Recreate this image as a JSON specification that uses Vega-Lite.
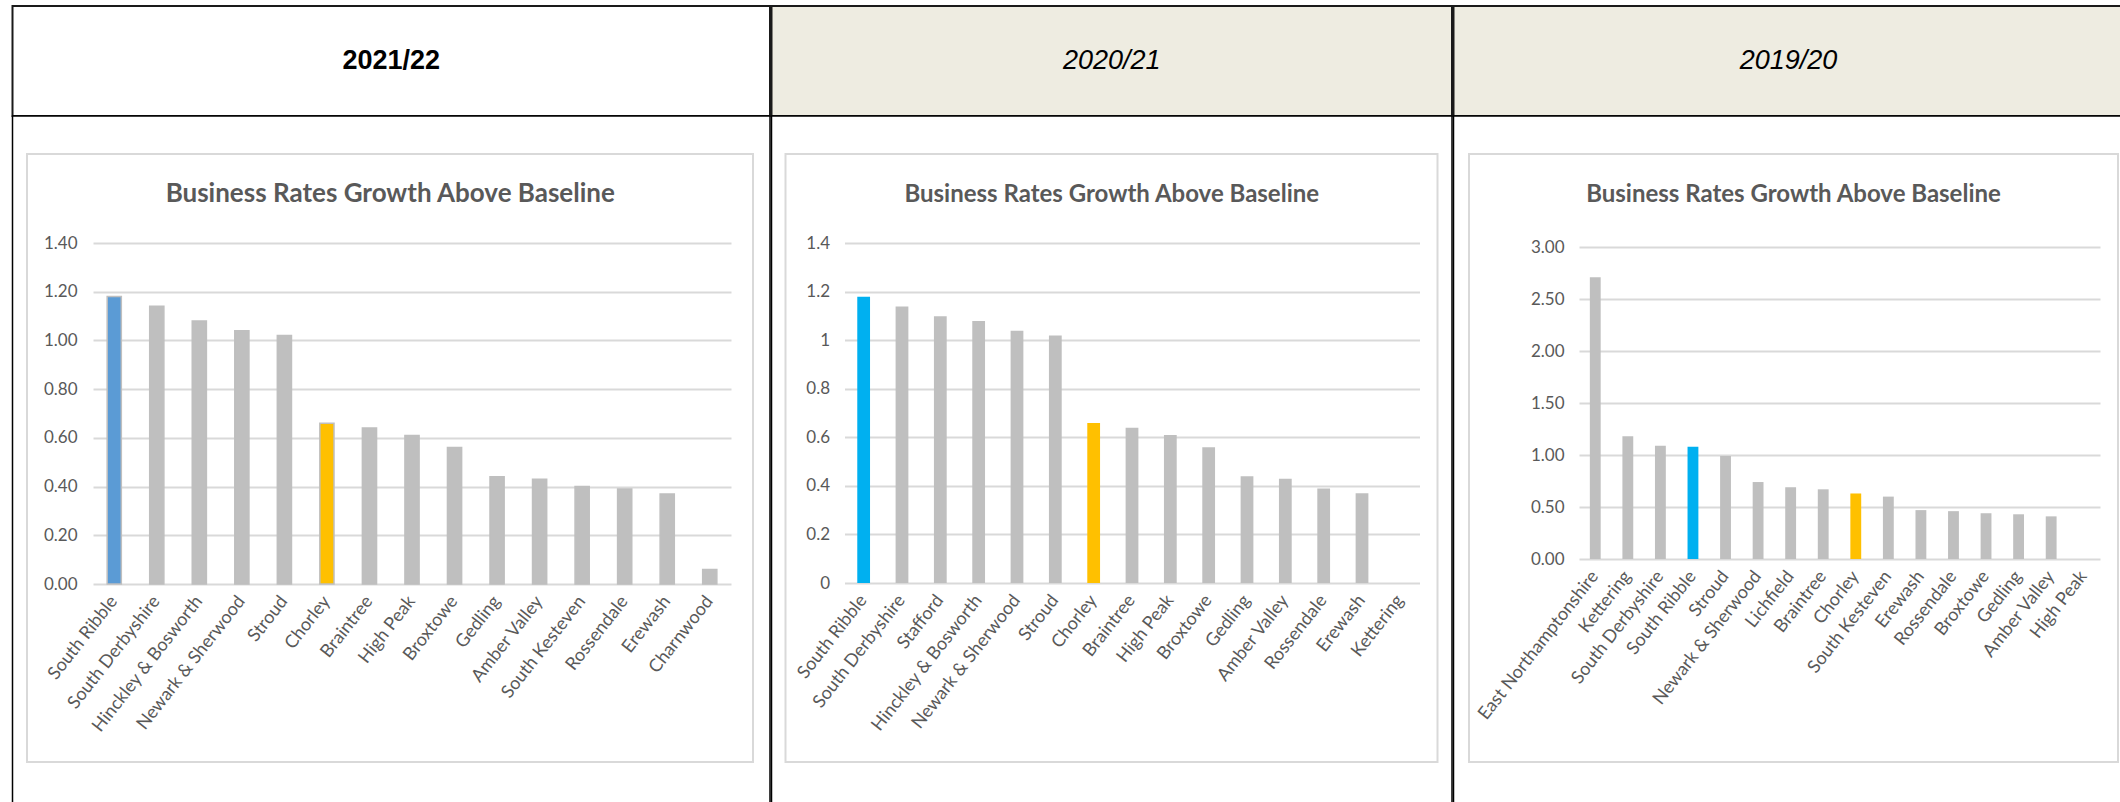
{
  "$schema": "https://vega.github.io/schema/vega-lite/v6.json",
  "padding": {"left": 11.5, "top": 5, "right": 0, "bottom": 0},
  "background": "white",
  "spacing": -2,
  "bounds": "full",
  "datasets": {
    "p1": [
      {"district": "South Ribble", "value": 1.18},
      {"district": "South Derbyshire", "value": 1.14},
      {"district": "Hinckley & Bosworth", "value": 1.08},
      {"district": "Newark & Sherwood", "value": 1.04},
      {"district": "Stroud", "value": 1.02},
      {"district": "Chorley", "value": 0.66},
      {"district": "Braintree", "value": 0.64},
      {"district": "High Peak", "value": 0.61},
      {"district": "Broxtowe", "value": 0.56},
      {"district": "Gedling", "value": 0.44},
      {"district": "Amber Valley", "value": 0.43},
      {"district": "South Kesteven", "value": 0.40},
      {"district": "Rossendale", "value": 0.39},
      {"district": "Erewash", "value": 0.37},
      {"district": "Charnwood", "value": 0.06}
    ],
    "p2": [
      {"district": "South Ribble", "value": 1.18},
      {"district": "South Derbyshire", "value": 1.14},
      {"district": "Stafford", "value": 1.10},
      {"district": "Hinckley & Bosworth", "value": 1.08},
      {"district": "Newark & Sherwood", "value": 1.04},
      {"district": "Stroud", "value": 1.02},
      {"district": "Chorley", "value": 0.66},
      {"district": "Braintree", "value": 0.64},
      {"district": "High Peak", "value": 0.61},
      {"district": "Broxtowe", "value": 0.56},
      {"district": "Gedling", "value": 0.44},
      {"district": "Amber Valley", "value": 0.43},
      {"district": "Rossendale", "value": 0.39},
      {"district": "Erewash", "value": 0.37},
      {"district": "Kettering", "value": 0}
    ],
    "p3": [
      {"district": "East Northamptonshire", "value": 2.71},
      {"district": "Kettering", "value": 1.18},
      {"district": "South Derbyshire", "value": 1.09},
      {"district": "South Ribble", "value": 1.08},
      {"district": "Stroud", "value": 0.99},
      {"district": "Newark & Sherwood", "value": 0.74},
      {"district": "Lichfield", "value": 0.69},
      {"district": "Braintree", "value": 0.67},
      {"district": "Chorley", "value": 0.63},
      {"district": "South Kesteven", "value": 0.60},
      {"district": "Erewash", "value": 0.47},
      {"district": "Rossendale", "value": 0.46},
      {"district": "Broxtowe", "value": 0.44},
      {"district": "Gedling", "value": 0.43},
      {"district": "Amber Valley", "value": 0.41},
      {"district": "High Peak", "value": 0}
    ]
  },
  "hconcat": [
    {
      "spacing": 0,
      "bounds": "flush",
      "vconcat": [
        {
          "width": 757.5,
          "height": 110,
          "view": {"fill": "white", "stroke": "#1a1a1a", "strokeWidth": 2},
          "data": {"values": [{"year": "2021/22"}]},
          "mark": {"type": "text", "font": "Liberation Sans", "fontSize": 27, "fontWeight": "bold", "color": "#000000", "align": "center", "baseline": "middle"},
          "encoding": {"text": {"field": "year", "type": "nominal"}}
        },
        {
          "width": 757.5,
          "height": 696,
          "view": {"fill": "white", "stroke": "#000000", "strokeWidth": 1.5},
          "title": {"text": "Business Rates Growth Above Baseline", "frame": "group", "anchor": "middle", "offset": -91, "dx": -1, "font": "Lato", "fontSize": 26, "fontWeight": "bold", "color": "#595959"},
          "resolve": {"scale": {"x": "independent", "y": "independent"}, "axis": {"x": "independent", "y": "independent"}},
          "layer": [
            {
              "data": {"values": [{"panel": "chart"}]},
              "mark": {"type": "rect", "filled": false, "stroke": "#D9D9D9", "strokeWidth": 2},
              "encoding": {
                "x": {"field": "panel", "type": "nominal", "axis": null, "scale": {"range": [14.5, 740.5], "paddingInner": 0, "paddingOuter": 0}},
                "y": {"field": "panel", "type": "nominal", "axis": null, "scale": {"range": [38, 646], "paddingInner": 0, "paddingOuter": 0}}
              }
            },
            {
              "data": {"name": "p1"},
              "mark": {"type": "bar", "stroke": "#BFBFBF", "strokeWidth": 1.5},
              "encoding": {
                "x": {"field": "district", "type": "nominal", "sort": null,
                  "scale": {"range": [80.5, 718.5], "paddingInner": 0.667, "paddingOuter": 0.333},
                  "axis": {"orient": "bottom", "offset": -228, "title": null, "domain": false, "ticks": false, "grid": false, "labelAngle": -52, "labelAlign": "right", "labelBaseline": "middle", "labelPadding": 14, "labelFont": "Lato", "labelFontSize": 18, "labelColor": "#595959", "labelLimit": 300, "labelOverlap": false}},
                "y": {"field": "value", "type": "quantitative",
                  "scale": {"domain": [0, 1.4], "range": [468, 127], "nice": false, "zero": true},
                  "axis": {"orient": "left", "offset": -80.5, "title": null, "domain": false, "ticks": false, "values": [0, 0.2, 0.4, 0.6, 0.8, 1, 1.2, 1.4], "format": ".2f", "labelPadding": 16, "grid": true, "gridColor": "#D9D9D9", "gridWidth": 2, "labelFont": "Lato", "labelFontSize": 17, "labelColor": "#595959"}},
                "color": {"condition": [{"test": "datum.district === 'South Ribble'", "value": "#5B9BD5"}, {"test": "datum.district === 'Chorley'", "value": "#FFC000"}], "value": "#BFBFBF"}
              }
            }
          ]
        }
      ]
    },
    {
      "spacing": 0,
      "bounds": "flush",
      "vconcat": [
        {
          "width": 680.5,
          "height": 110,
          "view": {"fill": "#EEECE1", "stroke": "#1a1a1a", "strokeWidth": 2},
          "data": {"values": [{"year": "2020/21"}]},
          "mark": {"type": "text", "font": "Liberation Sans", "fontSize": 27, "fontStyle": "italic", "color": "#000000", "align": "center", "baseline": "middle"},
          "encoding": {"text": {"field": "year", "type": "nominal"}}
        },
        {
          "width": 680.5,
          "height": 696,
          "view": {"fill": "white", "stroke": "#000000", "strokeWidth": 1.5},
          "title": {"text": "Business Rates Growth Above Baseline", "frame": "group", "anchor": "middle", "offset": -91, "font": "Lato", "fontSize": 24, "fontWeight": "bold", "color": "#595959"},
          "resolve": {"scale": {"x": "independent", "y": "independent"}, "axis": {"x": "independent", "y": "independent"}},
          "layer": [
            {
              "data": {"values": [{"panel": "chart"}]},
              "mark": {"type": "rect", "filled": false, "stroke": "#D9D9D9", "strokeWidth": 2},
              "encoding": {
                "x": {"field": "panel", "type": "nominal", "axis": null, "scale": {"range": [14, 666], "paddingInner": 0, "paddingOuter": 0}},
                "y": {"field": "panel", "type": "nominal", "axis": null, "scale": {"range": [38, 646], "paddingInner": 0, "paddingOuter": 0}}
              }
            },
            {
              "data": {"name": "p2"},
              "mark": {"type": "bar"},
              "encoding": {
                "x": {"field": "district", "type": "nominal", "sort": null,
                  "scale": {"range": [73, 648], "paddingInner": 0.667, "paddingOuter": 0.333},
                  "axis": {"orient": "bottom", "offset": -229, "title": null, "domain": false, "ticks": false, "grid": false, "labelAngle": -52, "labelAlign": "right", "labelBaseline": "middle", "labelPadding": 14, "labelFont": "Lato", "labelFontSize": 18, "labelColor": "#595959", "labelLimit": 300, "labelOverlap": false}},
                "y": {"field": "value", "type": "quantitative",
                  "scale": {"domain": [0, 1.4], "range": [467, 127.4], "nice": false, "zero": true},
                  "axis": {"orient": "left", "offset": -73, "title": null, "domain": false, "ticks": false, "values": [0, 0.2, 0.4, 0.6, 0.8, 1, 1.2, 1.4], "format": "~g", "labelPadding": 15, "grid": true, "gridColor": "#D9D9D9", "gridWidth": 2, "labelFont": "Lato", "labelFontSize": 17, "labelColor": "#595959"}},
                "color": {"condition": [{"test": "datum.district === 'South Ribble'", "value": "#00B0F0"}, {"test": "datum.district === 'Chorley'", "value": "#FFC000"}], "value": "#BFBFBF"}
              }
            }
          ]
        }
      ]
    },
    {
      "spacing": 0,
      "bounds": "flush",
      "vconcat": [
        {
          "width": 680,
          "height": 110,
          "view": {"fill": "#EEECE1", "stroke": "#1a1a1a", "strokeWidth": 2},
          "data": {"values": [{"year": "2019/20"}]},
          "mark": {"type": "text", "font": "Liberation Sans", "fontSize": 27, "fontStyle": "italic", "color": "#000000", "align": "center", "baseline": "middle", "dx": -5},
          "encoding": {"text": {"field": "year", "type": "nominal"}}
        },
        {
          "width": 680,
          "height": 696,
          "view": {"fill": "white", "stroke": "#000000", "strokeWidth": 1.5},
          "title": {"text": "Business Rates Growth Above Baseline", "frame": "group", "anchor": "middle", "offset": -91, "font": "Lato", "fontSize": 24, "fontWeight": "bold", "color": "#595959"},
          "resolve": {"scale": {"x": "independent", "y": "independent"}, "axis": {"x": "independent", "y": "independent"}},
          "layer": [
            {
              "data": {"values": [{"panel": "chart"}]},
              "mark": {"type": "rect", "filled": false, "stroke": "#D9D9D9", "strokeWidth": 2},
              "encoding": {
                "x": {"field": "panel", "type": "nominal", "axis": null, "scale": {"range": [15.5, 664.5], "paddingInner": 0, "paddingOuter": 0}},
                "y": {"field": "panel", "type": "nominal", "axis": null, "scale": {"range": [38, 646], "paddingInner": 0, "paddingOuter": 0}}
              }
            },
            {
              "data": {"name": "p3"},
              "mark": {"type": "bar"},
              "encoding": {
                "x": {"field": "district", "type": "nominal", "sort": null,
                  "scale": {"range": [125.5, 646.5], "paddingInner": 0.667, "paddingOuter": 0.333},
                  "axis": {"orient": "bottom", "offset": -253, "title": null, "domain": false, "ticks": false, "grid": false, "labelAngle": -52, "labelAlign": "right", "labelBaseline": "middle", "labelPadding": 14, "labelFont": "Lato", "labelFontSize": 18, "labelColor": "#595959", "labelLimit": 300, "labelOverlap": false}},
                "y": {"field": "value", "type": "quantitative",
                  "scale": {"domain": [0, 3], "range": [443, 131], "nice": false, "zero": true},
                  "axis": {"orient": "left", "offset": -125.5, "title": null, "domain": false, "ticks": false, "values": [0, 0.5, 1, 1.5, 2, 2.5, 3], "format": ".2f", "labelPadding": 15, "grid": true, "gridColor": "#D9D9D9", "gridWidth": 2, "labelFont": "Lato", "labelFontSize": 17, "labelColor": "#595959"}},
                "color": {"condition": [{"test": "datum.district === 'South Ribble'", "value": "#00B0F0"}, {"test": "datum.district === 'Chorley'", "value": "#FFC000"}], "value": "#BFBFBF"}
              }
            }
          ]
        }
      ]
    }
  ]
}
